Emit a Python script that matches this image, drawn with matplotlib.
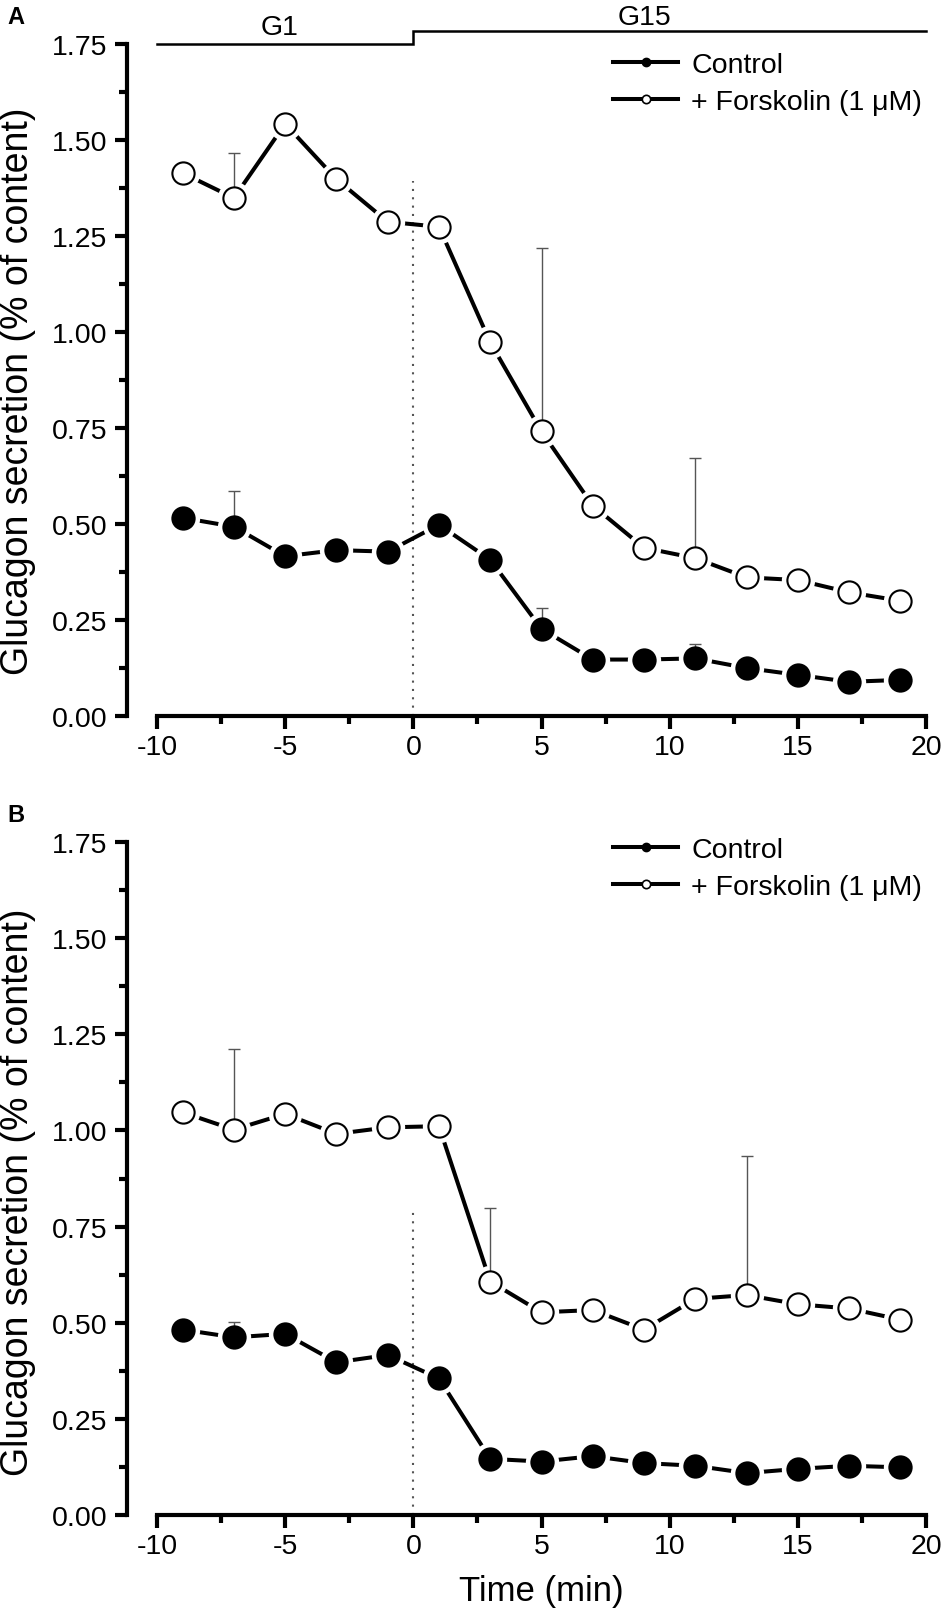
import matplotlib.pyplot as plt
from matplotlib.lines import Line2D
from matplotlib.ticker import MultipleLocator, FormatStrFormatter

plt.rcParams["font.family"] = ["Liberation Sans", "DejaVu Sans"]
plt.rcParams["axes.unicode_minus"] = False

# time points (min)
time = [-9, -7, -5, -3, -1, 1, 3, 5, 7, 9, 11, 13, 15, 17, 19]

# panel A
ctrl_a = [0.516, 0.493, 0.416, 0.432, 0.428, 0.498, 0.407, 0.227, 0.147, 0.147, 0.150, 0.125, 0.107, 0.089, 0.094]
ctrl_a_err = [0, 0.094, 0, 0, 0, 0, 0, 0.055, 0, 0, 0.037, 0, 0, 0, 0]
fsk_a = [1.414, 1.349, 1.542, 1.398, 1.287, 1.274, 0.973, 0.741, 0.548, 0.438, 0.411, 0.361, 0.354, 0.322, 0.300]
fsk_a_err = [0, 0.116, 0, 0, 0, 0, 0, 0.477, 0, 0, 0.262, 0, 0, 0, 0]

# panel B
ctrl_b = [0.482, 0.462, 0.471, 0.397, 0.416, 0.355, 0.146, 0.139, 0.153, 0.135, 0.128, 0.109, 0.120, 0.128, 0.124]
ctrl_b_err = [0, 0.041, 0, 0, 0, 0, 0, 0, 0, 0, 0, 0, 0, 0, 0]
fsk_b = [1.047, 1.002, 1.043, 0.991, 1.008, 1.011, 0.607, 0.527, 0.533, 0.482, 0.562, 0.572, 0.548, 0.537, 0.508]
fsk_b_err = [0, 0.210, 0, 0, 0, 0, 0.190, 0, 0, 0, 0, 0.362, 0, 0, 0]

# glucose step bar over panel A
phase_x = [-10, 0, 0, 20]
phase_y = [1.75, 1.75, 1.784, 1.784]
phase_labels = ["G1", "G15"]
phase_label_x = [-5.2, 9.0]
phase_label_y = [1.776, 1.802]

dotted_top = [1.394, 0.79]

W, H = 942, 1615
fig = plt.figure(figsize=(W / 100, H / 100), dpi=100)

axA = fig.add_axes([157 / W, 1 - 717 / H, 769 / W, 672 / H])
axB = fig.add_axes([157 / W, 1 - 1516 / H, 769 / W, 673 / H])

MS = 16
HALO = 24
LW = 2.9
TICK_FS = 20.5
YLABEL_FS = 27
XLABEL_FS = 25
SPINE_W = 3.0


def draw_series(ax, y, err, filled):
    ax.plot(time, y, color="black", lw=LW, zorder=3, solid_capstyle="butt")
    ax.plot(time, y, ls="none", marker="o", ms=HALO, mfc="white", mec="none", zorder=4)
    ax.errorbar(time, y, yerr=[[0] * len(err), err], fmt="none", ecolor="#555555",
                elinewidth=1.0, capsize=4.5, capthick=1.0, zorder=5)
    ax.plot(time, y, ls="none", marker="o", ms=MS,
            mfc="black" if filled else "white", mec="black", mew=1.5, zorder=6)


def style_axis(ax, top):
    ax.set_xlim(-10, 20)
    ax.set_ylim(0, 1.75)
    ax.spines["top"].set_visible(False)
    ax.spines["right"].set_visible(False)
    ax.spines["left"].set_position(("outward", 21.6))
    for s in ["left", "bottom"]:
        ax.spines[s].set_linewidth(SPINE_W)
    ax.xaxis.set_major_locator(MultipleLocator(5))
    ax.xaxis.set_minor_locator(MultipleLocator(2.5))
    ax.yaxis.set_major_locator(MultipleLocator(0.25))
    ax.yaxis.set_minor_locator(MultipleLocator(0.125))
    ax.yaxis.set_major_formatter(FormatStrFormatter("%.2f"))
    ax.tick_params(which="major", length=9, width=SPINE_W, labelsize=TICK_FS)
    ax.tick_params(which="minor", length=5.5, width=SPINE_W)
    ax.tick_params(axis="x", which="major", pad=4)
    ax.tick_params(axis="y", which="major", pad=5)
    ax.axvline(0, ymin=0, ymax=top / 1.75, color="#555555", lw=1.5,
               ls=(0, (1, 3)), zorder=1)


draw_series(axA, ctrl_a, ctrl_a_err, True)
draw_series(axA, fsk_a, fsk_a_err, False)
draw_series(axB, ctrl_b, ctrl_b_err, True)
draw_series(axB, fsk_b, fsk_b_err, False)

style_axis(axA, dotted_top[0])
style_axis(axB, dotted_top[1])

for yc in [391, 1192]:
    fig.text(18 / W, 1 - yc / H, "Glucagon secretion (% of content)", rotation=90,
             ha="center", va="center", fontsize=YLABEL_FS)

axB.set_xlabel("Time (min)", fontsize=XLABEL_FS)
axB.xaxis.set_label_coords(0.5, -0.088)

axA.plot(phase_x, phase_y, color="black", lw=1.8, clip_on=False,
         solid_joinstyle="miter")
for lab, lx, ly in zip(phase_labels, phase_label_x, phase_label_y):
    axA.text(lx, ly, lab, ha="center", va="baseline", fontsize=TICK_FS)

handles = [
    Line2D([], [], color="black", lw=LW, marker="o", ms=6, mfc="black", mec="black"),
    Line2D([], [], color="black", lw=LW, marker="o", ms=6, mfc="white", mec="black", mew=1.2),
]
names = ["Control", "+ Forskolin (1 μM)"]
for ax, top_px in [(axA, 53), (axB, 838)]:
    ax.legend(handles, names, loc="upper left", bbox_to_anchor=(613 / W, 1 - top_px / H),
              bbox_transform=fig.transFigure, frameon=False, fontsize=TICK_FS,
              borderpad=0, borderaxespad=0, handlelength=2.3, handletextpad=0.45,
              labelspacing=0.38)

fig.text(7 / W, 1 - 17 / H, "A", fontsize=17, fontweight="bold", ha="left", va="center")
fig.text(7 / W, 1 - 815 / H, "B", fontsize=17, fontweight="bold", ha="left", va="center")

fig.savefig("out.png", dpi=100)
